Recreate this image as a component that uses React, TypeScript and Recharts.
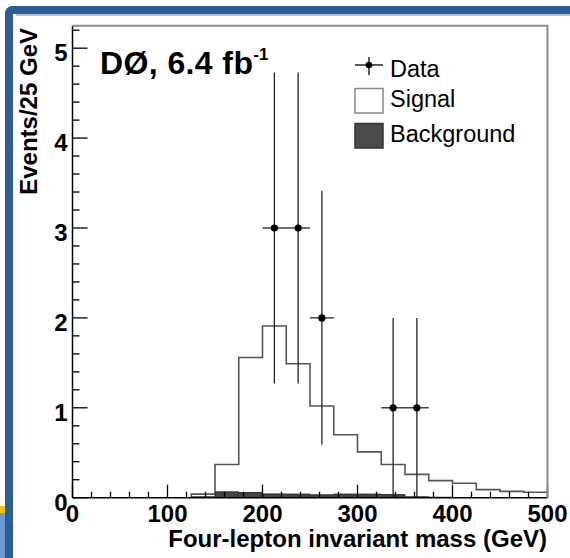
import React from 'react';
import { ComposedChart, Area, Scatter, ErrorBar, XAxis, YAxis } from 'recharts';

// signal / background histograms, 25 GeV bins (left edges)
const binStarts = [125, 150, 175, 200, 225, 250, 275, 300, 325, 350, 375, 400, 425, 450, 475];
const binEnd = 500;
const signalEvents = [0.04, 0.37, 1.56, 1.91, 1.49, 1.02, 0.7, 0.51, 0.37, 0.26, 0.19, 0.16, 0.09, 0.07, 0.06];
const backgroundEvents = [0.01, 0.065, 0.058, 0.042, 0.04, 0.032, 0.04, 0.04, 0.035, 0.01, 0.005, 0, 0, 0, 0];

// observed events (bin centres) with sqrt(N) errors
const dataMass = [212.5, 237.5, 262.5, 337.5, 362.5];
const dataEvents = [3, 3, 2, 1, 1];
const dataErr = [1.73, 1.73, 1.41, 1, 1];
const binHalfWidth = 12.5;

const xTicks = Array.from({ length: 26 }, (_, i) => i * 20);
const yTicks = Array.from({ length: 27 }, (_, i) => Math.round(i * 2) / 10);

const FONT = '"Liberation Sans", Arial, Helvetica, sans-serif';

const histData = [
  { x: 0, signal: 0, bkg: 0 },
  ...binStarts.map((x, i) => ({ x, signal: signalEvents[i], bkg: backgroundEvents[i] })),
  { x: binEnd, signal: signalEvents[signalEvents.length - 1], bkg: backgroundEvents[backgroundEvents.length - 1] },
];

const points = dataMass.map((m, i) => ({ x: m, y: dataEvents[i], ey: dataErr[i], ex: binHalfWidth }));

const XTick = (props: any) => {
  const { x, y, payload } = props;
  const v = payload.value;
  const major = v % 100 === 0;
  return (
    <g>
      <line x1={x} x2={x} y1={y} y2={y - (major ? 13 : 6)} stroke="#000" strokeWidth={1.3} />
      {major && (
        <text x={x} y={y + 24} textAnchor="middle" fontFamily={FONT} fontWeight="bold" fontSize={24} fill="#000">
          {v}
        </text>
      )}
    </g>
  );
};

const YTick = (props: any) => {
  const { x, y, payload } = props;
  const v = payload.value;
  const major = Math.abs(v - Math.round(v)) < 1e-6;
  return (
    <g>
      <line x1={x} x2={x + (major ? 15 : 7)} y1={y} y2={y} stroke="#000" strokeWidth={1.3} />
      {major && (
        <text x={x - 5} y={y + 13} textAnchor="end" fontFamily={FONT} fontWeight="bold" fontSize={24} fill="#000">
          {Math.round(v)}
        </text>
      )}
    </g>
  );
};

const DataDot = (props: any) => <circle cx={props.cx} cy={props.cy} r={3.6} fill="#000" />;

export default function App() {
  return (
    <div style={{ position: 'absolute', left: 0, top: 0, width: 570, height: 558, overflow: 'hidden', background: '#fff' }}>
      {/* slide frame */}
      <div style={{ position: 'absolute', left: 5, top: 6, width: 580, height: 570, borderTop: '8px solid #2c5e92', borderLeft: '8px solid #2c5e92', borderTopLeftRadius: 8, boxSizing: 'border-box' }} />
      <div style={{ position: 'absolute', left: 16, top: 14, width: 560, height: 1.5, background: '#a9c2dc' }} />
      <div style={{ position: 'absolute', left: 0, top: 506, width: 5, height: 7, background: '#f2c200' }} />
      <div style={{ position: 'absolute', left: 0, top: 513, width: 5, height: 45, background: '#6d9bd1' }} />

      <div style={{ position: 'absolute', left: 0, top: 0 }}>
        <ComposedChart width={570} height={558} data={histData} margin={{ top: 25.7, right: 22.5, bottom: 0, left: 0 }}>
          <XAxis
            type="number"
            dataKey="x"
            domain={[0, 500]}
            ticks={xTicks}
            interval={0}
            tickSize={0}
            tickMargin={0}
            tickLine={false}
            tick={<XTick />}
            axisLine={{ stroke: '#000', strokeWidth: 1.5 }}
            height={60.3}
            allowDataOverflow
          />
          <YAxis
            type="number"
            dataKey="y"
            domain={[0, 5.25]}
            ticks={yTicks}
            interval={0}
            tickSize={0}
            tickMargin={0}
            tickLine={false}
            tick={<YTick />}
            axisLine={{ stroke: '#000', strokeWidth: 1.5 }}
            width={72.5}
            allowDataOverflow
          />
          <Area
            type="stepAfter"
            dataKey="signal"
            stroke="#555"
            strokeWidth={1.6}
            fill="none"
            dot={false}
            activeDot={false}
            isAnimationActive={false}
          />
          <Area
            type="stepAfter"
            dataKey="bkg"
            stroke="#333"
            strokeWidth={1}
            fill="#444"
            fillOpacity={1}
            dot={false}
            activeDot={false}
            isAnimationActive={false}
          />
          <Scatter data={points} dataKey="y" shape={<DataDot />} isAnimationActive={false}>
            <ErrorBar dataKey="ey" direction="y" width={0} stroke="#222" strokeWidth={1.3} />
            <ErrorBar dataKey="ex" direction="x" width={0} stroke="#222" strokeWidth={1.3} />
          </Scatter>
        </ComposedChart>
      </div>

      <svg width={570} height={558} style={{ position: 'absolute', left: 0, top: 0, pointerEvents: 'none' }}>
        {/* frame top / right */}
        <line x1={72.5} x2={548} y1={25.7} y2={25.7} stroke="#888" strokeWidth={2} />
        <line x1={547.5} x2={547.5} y1={25} y2={497.7} stroke="#888" strokeWidth={2} />

        <text x={100} y={74} fontFamily={FONT} fontWeight="bold" fontSize={32} letterSpacing={0.4} fill="#000">
          DØ, 6.4 fb
          <tspan dy={-14} fontSize={17} letterSpacing={0}>-1</tspan>
        </text>

        {/* legend */}
        <line x1={355} x2={383} y1={65} y2={65} stroke="#000" strokeWidth={1.3} />
        <line x1={369} x2={369} y1={57} y2={75} stroke="#000" strokeWidth={1.3} />
        <circle cx={369} cy={65} r={3.3} fill="#000" />
        <text x={390} y={77} fontFamily={FONT} fontSize={23.5} fill="#000">Data</text>
        <rect x={355} y={88.5} width={28} height={24.5} fill="#fff" stroke="#888" strokeWidth={1.5} />
        <text x={390} y={107} fontFamily={FONT} fontSize={23.5} fill="#000">Signal</text>
        <rect x={355} y={123.5} width={28} height={24.5} fill="#4a4a4a" stroke="#333" strokeWidth={1.5} />
        <text x={390} y={142} fontFamily={FONT} fontSize={23.5} fill="#000">Background</text>

        {/* axis titles */}
        <text x={547} y={547} textAnchor="end" fontFamily={FONT} fontWeight="bold" fontSize={24} fill="#000">
          Four-lepton invariant mass (GeV)
        </text>
        <text transform="translate(37,28) rotate(-90)" textAnchor="end" fontFamily={FONT} fontWeight="bold" fontSize={24} fill="#000">
          Events/25 GeV
        </text>
      </svg>
    </div>
  );
}
